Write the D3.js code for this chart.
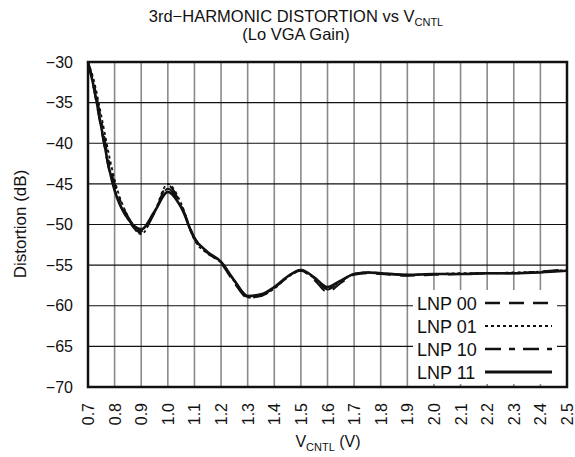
<!DOCTYPE html>
<html>
<head>
<meta charset="utf-8">
<script src="https://cdn.jsdelivr.net/npm/d3@7"></script>
<style>
  html, body { margin: 0; padding: 0; background: #fff; }
  svg { display: block; font-family: "Liberation Sans", Arial, sans-serif; }
</style>
</head>
<body>
<svg id="chart" width="575" height="457"></svg>
<script>
// Control voltage samples (V)
const vcntl = [0.70, 0.72, 0.75, 0.78, 0.80, 0.85, 0.90, 0.95, 1.00, 1.05, 1.10, 1.15, 1.20, 1.25,
               1.30, 1.35, 1.40, 1.45, 1.50, 1.55, 1.60, 1.65, 1.70, 1.75, 1.80, 1.90, 2.00, 2.10,
               2.20, 2.30, 2.40, 2.50];

// 3rd-harmonic distortion (dB) for each LNP setting
const lnp00 = [-30.0, -33.0, -38.3, -43.4, -45.7, -49.4, -51.0, -48.6, -45.2, -47.6, -51.6, -53.5, -54.8, -57.2,
               -59.0, -58.8, -57.8, -56.5, -55.7, -56.8, -58.3, -57.2, -56.2, -56.0, -56.1, -56.3, -56.2, -56.1,
               -56.0, -56.0, -55.8, -55.5];
const lnp01 = [-30.0, -32.0, -36.6, -41.6, -44.5, -49.0, -51.2, -48.4, -45.0, -47.4, -51.9, -53.6, -54.7, -57.0,
               -59.0, -58.8, -57.9, -56.5, -55.7, -56.6, -57.9, -57.0, -56.1, -55.9, -56.0, -56.2, -56.1, -56.0,
               -56.0, -55.9, -55.8, -55.6];
const lnp10 = [-30.0, -32.4, -37.2, -42.5, -45.0, -49.0, -50.8, -48.5, -45.6, -47.8, -51.8, -53.5, -54.6, -56.9,
               -58.9, -58.7, -57.8, -56.4, -55.6, -56.6, -58.0, -57.0, -56.1, -55.9, -56.0, -56.2, -56.1, -56.1,
               -56.0, -56.0, -55.8, -55.6];
const lnp11 = [-30.0, -32.8, -38.0, -43.2, -45.8, -49.3, -50.6, -48.4, -46.0, -47.9, -51.7, -53.4, -54.6, -56.9,
               -58.8, -58.6, -57.7, -56.4, -55.6, -56.5, -57.7, -56.9, -56.1, -55.9, -56.0, -56.2, -56.1, -56.1,
               -56.0, -56.0, -55.9, -55.7];

const seriesNames = ["LNP 00", "LNP 01", "LNP 10", "LNP 11"];
const seriesValues = [lnp00, lnp01, lnp10, lnp11];
const seriesDash = ["15,9", "3,3", "16,8,6,8", null];
const seriesWidth = [2, 1.8, 2, 2.6];

const xTicks = d3.range(0, 19).map(i => +(0.7 + i * 0.1).toFixed(1));
const yTicks = [-30, -35, -40, -45, -50, -55, -60, -65, -70];

const svg = d3.select("#chart");
const plot = { left: 88, right: 567, top: 62, bottom: 387 };

const x = d3.scaleLinear().domain([0.7, 2.5]).range([plot.left, plot.right]);
const y = d3.scaleLinear().domain([-70, -30]).range([plot.bottom, plot.top]);

// Vertical grid lines (gray)
svg.append("g")
  .selectAll("line")
  .data(xTicks.slice(1, -1))
  .join("line")
  .attr("x1", d => x(d)).attr("x2", d => x(d))
  .attr("y1", plot.top).attr("y2", plot.bottom)
  .attr("stroke", "#8a8a8a").attr("stroke-width", 1.6);

// Horizontal grid lines (black)
svg.append("g")
  .selectAll("line")
  .data(yTicks.slice(1, -1))
  .join("line")
  .attr("x1", plot.left).attr("x2", plot.right)
  .attr("y1", d => y(d)).attr("y2", d => y(d))
  .attr("stroke", "#111").attr("stroke-width", 1.1);

// Curves
const line = d3.line()
  .x((d, i) => x(vcntl[i]))
  .y(d => y(d))
  .curve(d3.curveMonotoneX);

svg.append("g")
  .selectAll("path")
  .data(seriesValues)
  .join("path")
  .attr("d", d => line(d))
  .attr("fill", "none")
  .attr("stroke", "#111")
  .attr("stroke-width", (d, i) => seriesWidth[i])
  .attr("stroke-dasharray", (d, i) => seriesDash[i]);

// Legend panel
const legend = svg.append("g");
legend.append("rect")
  .attr("x", 413).attr("y", 290)
  .attr("width", 144).attr("height", 94)
  .attr("fill", "#fff");

const rows = legend.selectAll("g.row")
  .data(seriesNames)
  .join("g")
  .attr("class", "row")
  .attr("transform", (d, i) => `translate(0, ${303 + i * 23})`);

rows.append("text")
  .attr("x", 417).attr("y", 6.5)
  .attr("font-size", 18)
  .attr("fill", "#111")
  .text(d => d);

rows.append("line")
  .attr("x1", 485).attr("x2", 552)
  .attr("y1", 0).attr("y2", 0)
  .attr("stroke", "#111")
  .attr("stroke-width", (d, i) => seriesWidth[i] + 0.4)
  .attr("stroke-dasharray", (d, i) => seriesDash[i]);

// Plot frame
svg.append("rect")
  .attr("x", plot.left).attr("y", plot.top)
  .attr("width", plot.right - plot.left).attr("height", plot.bottom - plot.top)
  .attr("fill", "none").attr("stroke", "#111").attr("stroke-width", 2.5);

// Y axis tick labels
const yAxis = d3.axisLeft(y).tickValues(yTicks).tickSize(0).tickPadding(15)
  .tickFormat(d => d3.format("d")(d).replace("-", "\u2212"));
svg.append("g")
  .attr("transform", `translate(${plot.left},0)`)
  .call(yAxis)
  .call(g => g.select(".domain").remove())
  .call(g => g.selectAll("text").attr("font-size", 16).attr("fill", "#111")
    .attr("font-family", "Liberation Sans, Arial, sans-serif"));

// X axis tick labels, rotated
const xAxis = d3.axisBottom(x).tickValues(xTicks).tickSize(0).tickFormat(d3.format(".1f"));
svg.append("g")
  .attr("transform", `translate(0,${plot.bottom})`)
  .call(xAxis)
  .call(g => g.select(".domain").remove())
  .call(g => g.selectAll("text")
    .attr("font-size", 16).attr("fill", "#111")
    .attr("font-family", "Liberation Sans, Arial, sans-serif")
    .attr("text-anchor", "end")
    .attr("dy", null).attr("y", 0)
    .attr("transform", "translate(5.5,16) rotate(-90)"));

// Titles
const title = svg.append("text")
  .attr("x", 296).attr("y", 22)
  .attr("text-anchor", "middle")
  .attr("font-size", 16.5).attr("fill", "#111");
title.append("tspan").text("3rd\u2212HARMONIC DISTORTION vs V");
title.append("tspan").attr("font-size", 11).attr("dy", 4).text("CNTL");

svg.append("text")
  .attr("x", 296).attr("y", 40)
  .attr("text-anchor", "middle")
  .attr("font-size", 16.5).attr("fill", "#111")
  .text("(Lo VGA Gain)");

const xTitle = svg.append("text")
  .attr("x", 328).attr("y", 447)
  .attr("text-anchor", "middle")
  .attr("font-size", 16).attr("fill", "#111");
xTitle.append("tspan").text("V");
xTitle.append("tspan").attr("font-size", 11).attr("dy", 4).text("CNTL");
xTitle.append("tspan").attr("dy", -4).text(" (V)");

svg.append("text")
  .attr("transform", "translate(26,224) rotate(-90)")
  .attr("text-anchor", "middle")
  .attr("font-size", 17).attr("fill", "#111")
  .text("Distortion (dB)");
</script>
</body>
</html>
